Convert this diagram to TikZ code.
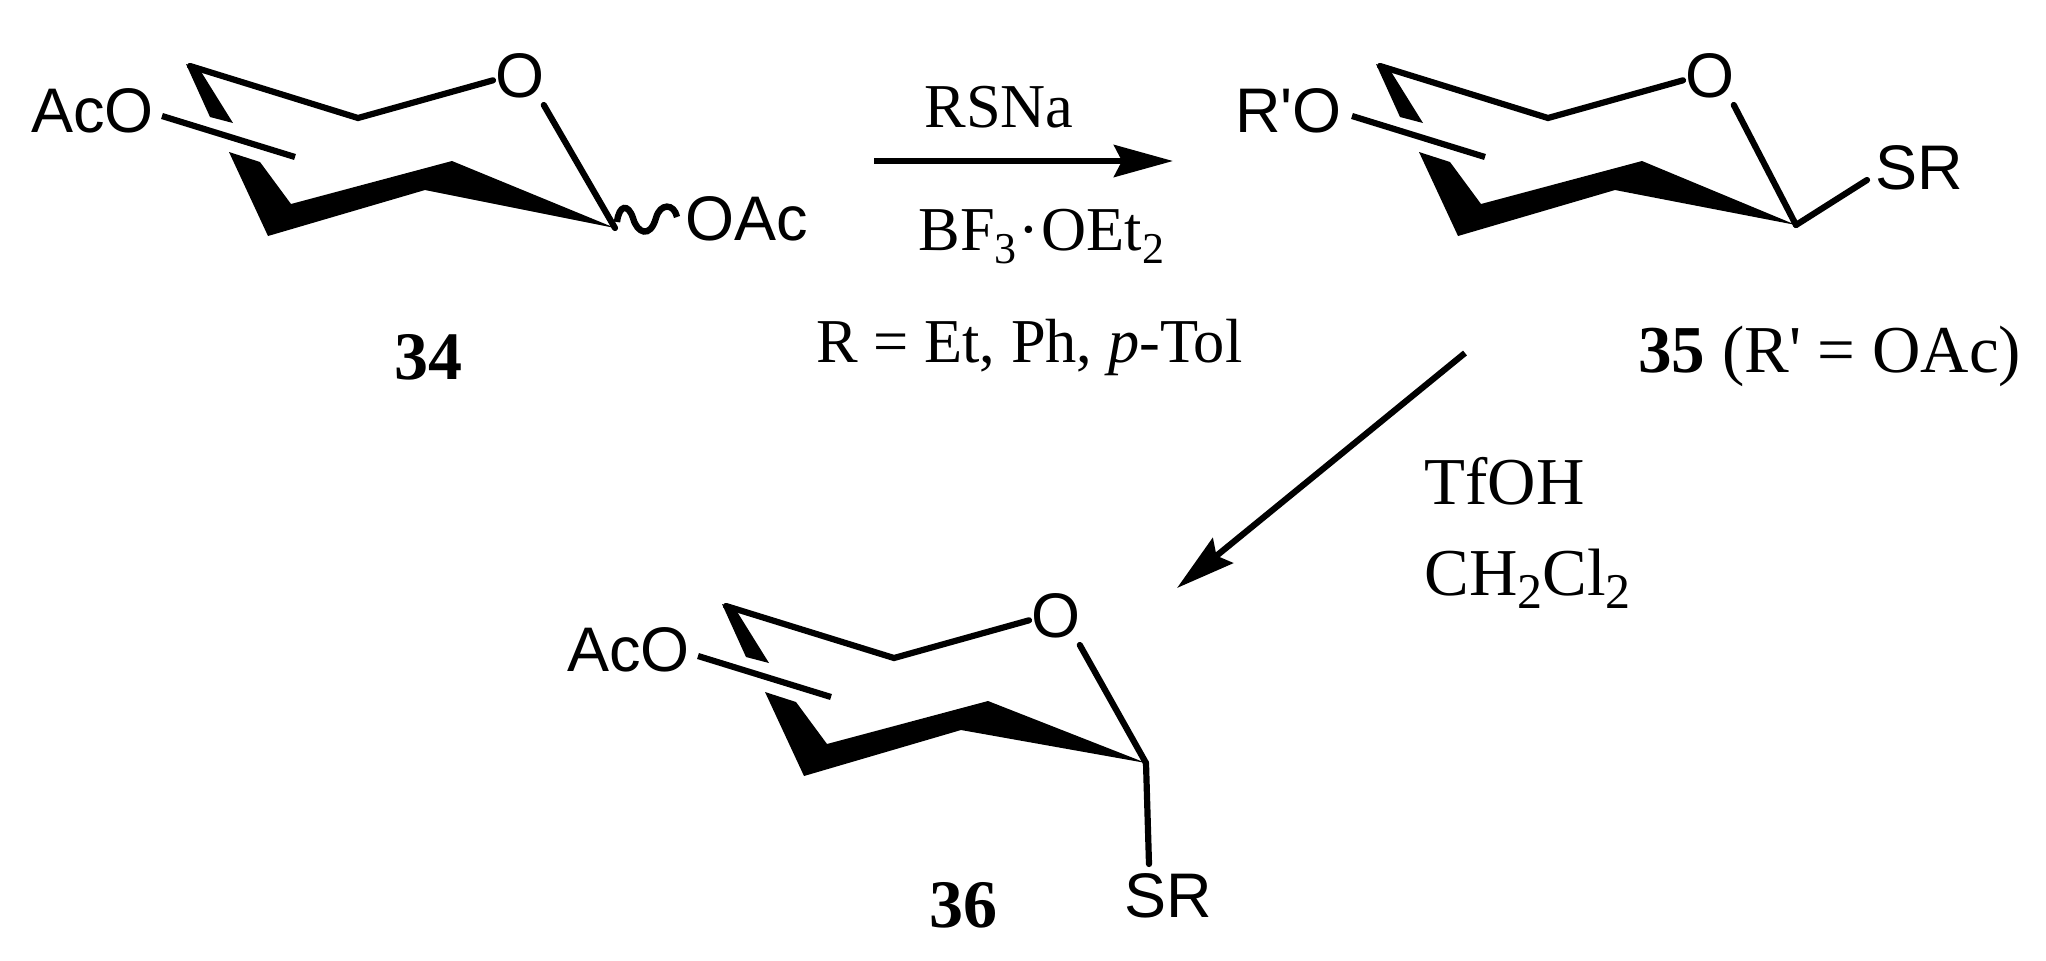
\documentclass[tikz,border=0pt]{standalone}
\usepackage{fontspec}
\setmainfont{Liberation Serif}
\setsansfont{Liberation Sans}
\usetikzlibrary{arrows.meta}
\newcommand{\lowidx}[2][22]{\raisebox{-6.5pt}{\fontsize{#1}{#1}\selectfont #2}}
\tikzset{
    bond/.style={line width=3.1pt, line cap=round},
    atomlabel/.style={font=\sffamily\fontsize{31.5}{31.5}\selectfont, inner sep=0pt, anchor=base west},
    reagent/.style={font=\fontsize{31.2}{31.2}\selectfont, inner sep=0pt, anchor=base west},
    bigreagent/.style={reagent, font=\fontsize{33.5}{33.5}\selectfont},
    number/.style={reagent, font=\bfseries\fontsize{34}{34}\selectfont},
    reaction/.style={line width=3.1pt, -{Stealth[length=29.5pt,width=16pt,inset=4pt]}},
}
\begin{document}
\begin{tikzpicture}[x=0.5pt,y=-0.5pt]
    \useasboundingbox (0,0) rectangle (2046,960);
    \foreach \ring/\dx/\dy/\tipx/\tipy in {a/0/0/615/228, b/1190/0/606/225, c/536/540/610/223} {
        \begin{scope}[shift={(\dx,\dy)}]
            \node[atomlabel] (O\ring) at (495,97) {O};
            \coordinate (apex\ring) at (186,64);
            \coordinate (back\ring) at (358,118);
            \coordinate (tip\ring) at (\tipx,\tipy);
            \draw[bond, line join=miter] (O\ring.west) ++(-2,5) -- (back\ring) -- (190,66);
            \draw[bond] (O\ring.south east) ++(-1,7) -- (tip\ring);
            \fill (apex\ring) -- (200,70) -- (233,123) -- (210,117) -- cycle;
            \fill (tip\ring) -- (452,161) -- (291,204) -- (260,162) -- (229,152) -- (268,236) -- (425,190) -- cycle;
            \coordinate (sub\ring) at (162,116);
            \coordinate (front\ring) at (295,157);
            \draw[bond, line cap=butt] (sub\ring) -- (front\ring);
        \end{scope}
    }
    % substituents
    \node[atomlabel, anchor=base east] (AcOa) at (154,132) {AcO};
    \node[atomlabel] (OAca) at (685,240) {OAc};
    \coordinate (wavea) at (617,222);
    \draw[line width=3.2pt] (wavea) .. controls (619,205) and (628,203) .. (633,218) .. controls (637,233) and (650,239) .. (656,218) .. controls (660,203) and (674,203) .. (677,217);
    \node[atomlabel, anchor=base east] (ROb) at (1342,132) {R\textquotesingle O};
    \node[atomlabel] (SRb) at (1875,189) {SR};
    \draw[bond] (SRb.base west) ++(-8,-9) -- (tipb);
    \node[atomlabel, anchor=base east] (AcOc) at (690,671) {AcO};
    \node[atomlabel] (SRc) at (1124,917) {SR};
    \draw[bond] (SRc.base west) ++(25,-53) -- (tipc);
    % compound numbers
    \node[number] (n34) at (394,379) {34};
    \node[bigreagent] (n35) at (1638,372) {\textbf{35} (R\textquotesingle{} = OAc)};
    \node[number] (n36) at (929,927) {36};
    % reagents
    \node[reagent] (rsna) at (924,127) {RSNa};
    \node[reagent] (bf) at (918,250) {BF\lowidx{3}\kern1pt\textperiodcentered\kern1ptOEt\lowidx{2}};
    \node[reagent] (rdef) at (816,362) {R = Et, Ph, \textit{p}-Tol};
    \node[bigreagent] (tfoh) at (1424,504) {TfOH};
    \node[bigreagent] (dcm) at (1424,595) {CH\lowidx[25]{2}Cl\lowidx[25]{2}};
    % arrows
    \coordinate (s1) at (874,161);
    \coordinate (e1) at (1173,161);
    \coordinate (s2) at (1465,353);
    \coordinate (e2) at (1177,588);
    \draw[reaction] (s1) -- (e1);
    \draw[reaction] (s2) -- (e2);
\end{tikzpicture}
\end{document}
